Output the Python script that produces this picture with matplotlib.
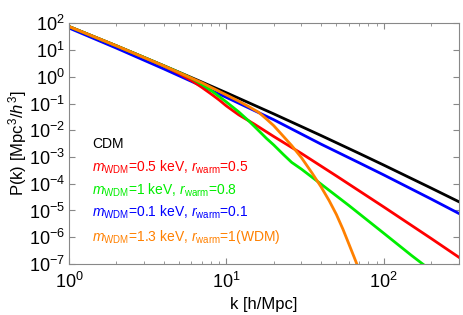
import matplotlib
matplotlib.use("Agg")
import matplotlib.pyplot as plt

plt.rcParams['font.family'] = ['Liberation Sans', 'DejaVu Sans']
plt.rcParams['mathtext.fontset'] = 'custom'
plt.rcParams['mathtext.rm'] = 'Liberation Sans'
plt.rcParams['mathtext.it'] = 'Liberation Sans:italic'

# power spectra
k_cdm = [1, 2, 4, 7, 10, 20, 40, 70, 100, 200, 300]
p_cdm = [75.9, 14.4, 2.61, 0.634, 0.253, 0.0410, 6.34e-3, 1.355e-3, 4.99e-4, 6.90e-5, 2.13e-5]

k_mix01 = [1, 2, 4, 7, 10, 20, 40, 70, 100, 200, 300]
p_mix01 = [66.7, 11.83, 1.977, 0.447, 0.170, 0.0248, 3.02e-3, 6.03e-4, 2.14e-4, 2.69e-5, 7.76e-6]

k_mix05 = [1, 2, 3, 4, 5, 6, 7, 8, 9, 10, 12, 15, 20, 30, 50, 100, 200, 300]
p_mix05 = [75.9, 14.4, 5.25, 2.535, 1.327, 0.728, 0.398, 0.2275, 0.1358, 0.0813,
           0.0376, 0.0172, 5.86e-3, 1.358e-3, 1.96e-4, 1.358e-5, 9.0e-7, 1.786e-7]

k_mix1 = [1, 2, 3, 4, 5, 6, 7, 8, 10, 12, 14, 16, 18, 20, 23, 26, 30, 40, 60, 100, 150, 180, 200]
p_mix1 = [75.9, 14.4, 5.31, 2.57, 1.462, 0.883, 0.515, 0.3076, 0.1143, 0.0483, 0.02133,
          9.84e-3, 4.93e-3, 2.82e-3, 1.25e-3, 6.3e-4, 3.52e-4, 9.66e-5, 1.545e-5, 1.413e-6,
          2.09e-7, 9.2e-8, 5.75e-8]

k_wdm = [1, 2, 4, 7, 10, 12, 14, 16, 18, 20, 23, 26, 30, 35, 40, 45, 50, 55, 60, 65, 70]
p_wdm = [75.9, 14.4, 2.562, 0.597, 0.2094, 0.1219, 0.0745, 0.0474, 0.0261, 0.01486,
         5.98e-3, 2.685e-3, 9.44e-4, 2.54e-4, 7.6e-5, 2.33e-5, 7.11e-6, 2.02e-6,
         5.65e-7, 1.738e-7, 5.73e-8]

labels = ['CDM',
          r'$m_{\rm WDM}$=0.5 keV, $r_{\rm warm}$=0.5',
          r'$m_{\rm WDM}$=1 keV, $r_{\rm warm}$=0.8',
          r'$m_{\rm WDM}$=0.1 keV, $r_{\rm warm}$=0.1',
          r'$m_{\rm WDM}$=1.3 keV, $r_{\rm warm}$=1(WDM)']
colors = ['black', '#ff0000', '#00ee00', '#0000ff', '#ff8000']

fig = plt.figure(figsize=(4.63, 3.15), dpi=100)
ax = fig.add_axes([0.149, 0.162, 0.842, 0.764])

ax.plot(k_cdm, p_cdm, color=colors[0], lw=2)
ax.plot(k_mix01, p_mix01, color=colors[3], lw=2)
ax.plot(k_mix05, p_mix05, color=colors[1], lw=2)
ax.plot(k_mix1, p_mix1, color=colors[2], lw=2)
ax.plot(k_wdm, p_wdm, color=colors[4], lw=2)

ax.set_xscale('log')
ax.set_yscale('log')
ax.set_xlim(1, 300)
ax.set_ylim(1e-7, 1e2)
ax.set_yticks([10.0 ** e for e in range(-7, 3)])

for s in ax.spines.values():
    s.set_color('#888888')
ax.tick_params(which='both', direction='in', top=True, right=True,
               color='#888888', labelsize=13)
ax.tick_params(which='major', length=4)
ax.tick_params(which='minor', length=2)
ax.tick_params(axis='x', which='major', pad=6)
ax.tick_params(axis='y', which='major', pad=3)

ax.set_xlabel('k [h/Mpc]', fontsize=12, labelpad=3)
ax.set_ylabel(r'P(k) [Mpc$^3$/$h^3$]', fontsize=12, labelpad=0)

ys = [0.481, 0.383, 0.287, 0.196, 0.097]
for lab, c, y in zip(labels, colors, ys):
    ax.text(0.059, y, lab, color=c, fontsize=10, transform=ax.transAxes, va='baseline')

fig.savefig('out.png', dpi=100)
